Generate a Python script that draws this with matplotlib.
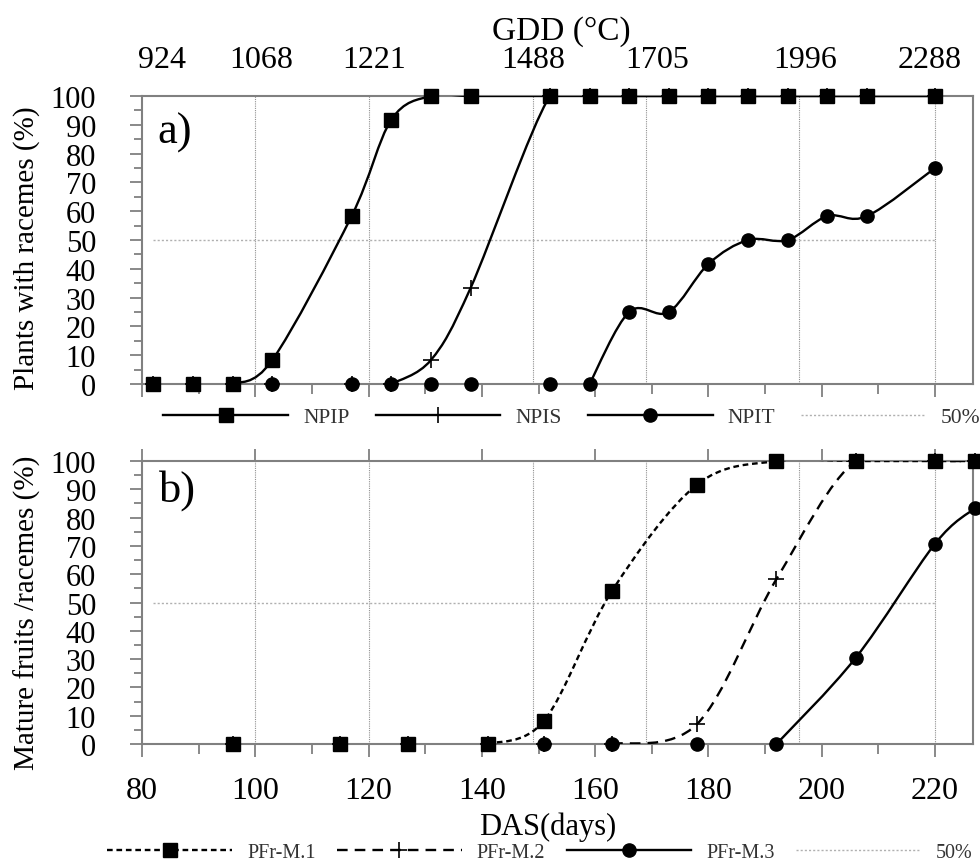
import matplotlib
matplotlib.use("Agg")
import matplotlib.pyplot as plt
from matplotlib.path import Path
from matplotlib.patches import PathPatch
from matplotlib.lines import Line2D
from matplotlib.ticker import MultipleLocator
import numpy as np

plt.rcParams['font.family'] = ['Liberation Serif', 'DejaVu Serif']

# a) plants with racemes (%) by days after sowing
das_a = [82, 89, 96, 103, 117, 124, 131, 138, 152, 159, 166, 173, 180, 187, 194, 201, 208, 220]
npip = [0, 0, 0, 8.3, 58.3, 91.7, 100, 100, 100, 100, 100, 100, 100, 100, 100, 100, 100, 100]
npis = [0, 0, 0, 0, 0, 0, 8.3, 33.3, 100, 100, 100, 100, 100, 100, 100, 100, 100, 100]
npit = [0, 0, 0, 0, 0, 0, 0, 0, 0, 0, 25, 25, 41.7, 50, 50, 58.3, 58.3, 75]

# b) mature fruits / racemes (%)
das_b = [96, 115, 127, 141, 151, 163, 178, 192, 206, 220, 227]
pfr_m1 = [0, 0, 0, 0, 8.3, 54.2, 91.7, 100, 100, 100, 100]
pfr_m2 = [0, 0, 0, 0, 0, 0, 7.1, 58.3, 100, 100, 100]
pfr_m3 = [0, 0, 0, 0, 0, 0, 0, 0, 30.5, 70.8, 83.3]

fifty_x = [82, 220]
fifty_y = [50, 50]

# GDD labels on the top axis and the matching vertical guide lines
gdd_labels = ['924', '1068', '1221', '1488', '1705', '1996', '2288']
gdd_pos = [83.5, 101, 121, 149, 171, 197, 219]
guide_das = [100, 120, 149, 169, 196, 220]

GREY = '#808080'


def smooth_path(x, y):
    # excel-like smoothed line: catmull-rom converted to cubic bezier
    pts = np.column_stack([x, y]).astype(float)
    n = len(pts)
    verts = [pts[0]]
    codes = [Path.MOVETO]
    for i in range(n - 1):
        p0 = pts[max(i - 1, 0)]
        p1 = pts[i]
        p2 = pts[i + 1]
        p3 = pts[min(i + 2, n - 1)]
        verts += [p1 + (p2 - p0) / 6, p2 - (p3 - p1) / 6, p2]
        codes += [Path.CURVE4] * 3
    return Path(verts, codes)


def draw_series(ax, x, y, ls, marker, ms, mew, z):
    # line starts at the last zero before the rise
    start = 0
    for i in range(len(y) - 1):
        if y[i + 1] > 0:
            start = i
            break
    patch = PathPatch(smooth_path(x[start:], y[start:]), facecolor='none',
                      edgecolor='black', lw=1.7, ls=ls, zorder=3)
    ax.add_patch(patch)
    ax.plot(x, y, ls='none', marker=marker, ms=ms, mew=mew, color='black',
            clip_on=False, zorder=z)


def style_axes(ax, show_xlabels):
    ax.set_xlim(80, 226.7)
    ax.set_ylim(0, 100)
    ax.xaxis.set_major_locator(MultipleLocator(20))
    ax.xaxis.set_minor_locator(MultipleLocator(10))
    ax.yaxis.set_major_locator(MultipleLocator(10))
    ax.yaxis.set_minor_locator(MultipleLocator(5))
    for s in ax.spines.values():
        s.set_color(GREY)
        s.set_linewidth(1.5)
    ax.tick_params(axis='x', which='major', direction='out', top=True, bottom=True,
                   length=9, width=1.3, color=GREY, labelbottom=show_xlabels,
                   labelsize=23, pad=14)
    ax.tick_params(axis='x', which='minor', direction='out', top=False, bottom=True,
                   length=7, width=1.3, color=GREY)
    ax.tick_params(axis='y', which='major', direction='out', length=9, width=1.3,
                   color=GREY, labelsize=22, pad=24)
    ax.tick_params(axis='y', which='minor', direction='out', length=6, width=1.3,
                   color=GREY)
    ax.vlines(guide_das, 0, 100, colors='#909090', lw=0.8, ls=(0, (1, 1)), zorder=1)
    ax.plot(fifty_x, fifty_y, color='#b0b0b0', lw=1.0, ls=(0, (1.5, 1.5)), zorder=1)


fig = plt.figure(figsize=(9.8, 8.62), dpi=100)
ax_a = fig.add_axes([0.1449, 0.5534, 0.848, 0.3341])
ax_b = fig.add_axes([0.1449, 0.1357, 0.848, 0.3283])

style_axes(ax_a, False)
style_axes(ax_b, True)

# panel a
draw_series(ax_a, das_a, npis, '-', '+', 11, 1.2, 4)
draw_series(ax_a, das_a, npit, '-', 'o', 9.5, 1, 5)
draw_series(ax_a, das_a, npip, '-', 's', 10.5, 1, 6)
ax_a.text(0.019, 0.84, 'a)', transform=ax_a.transAxes, fontsize=32, va='baseline')

# panel b
draw_series(ax_b, das_b, pfr_m2, (0, (4.5, 3)), '+', 11, 1.2, 4)
draw_series(ax_b, das_b, pfr_m3, '-', 'o', 9.5, 1, 5)
draw_series(ax_b, das_b, pfr_m1, (0, (2.4, 1.6)), 's', 10.5, 1, 6)
ax_b.text(0.021, 0.859, 'b)', transform=ax_b.transAxes, fontsize=32, va='baseline')

# GDD top axis
ax_g = ax_a.twiny()
ax_g.set_xlim(ax_a.get_xlim())
ax_g.set_xticks(gdd_pos)
ax_g.set_xticklabels(gdd_labels)
ax_g.tick_params(axis='x', length=0, labelsize=23, pad=16)
for s in ax_g.spines.values():
    s.set_visible(False)

fig.text(561 / 980, 1 - 40 / 862, 'GDD (\u00b0C)', fontsize=24, ha='center', va='baseline')
fig.text(548 / 980, 1 - 835 / 862, 'DAS(days)', fontsize=22, ha='center', va='baseline')
fig.text(27 / 980, 1 - 248 / 862, 'Plants with racemes (%)', fontsize=21,
         rotation=90, ha='center', va='center')
fig.text(27 / 980, 1 - 613 / 862, 'Mature fruits /racemes (%)', fontsize=21,
         rotation=90, ha='center', va='center')

fifty_handle = Line2D([], [], color='#b0b0b0', lw=1.0, ls=(0, (1.5, 1.5)))
leg_a = [
    Line2D([], [], color='black', lw=1.7, marker='s', ms=10.5),
    Line2D([], [], color='black', lw=1.7, marker='+', ms=11, mew=1.2),
    Line2D([], [], color='black', lw=1.7, marker='o', ms=9.5),
    fifty_handle,
]
ax_a.legend(leg_a, ['NPIP', 'NPIS', 'NPIT', '50%'], loc='center',
            bbox_to_anchor=(572 / 980, 1 - 418 / 862), bbox_transform=fig.transFigure,
            ncol=4, frameon=False, fontsize=15.5, handlelength=5.8, handletextpad=0.7,
            columnspacing=1.2, labelcolor='#333333')

leg_b = [
    Line2D([], [], color='black', lw=1.7, ls=(0, (2.4, 1.6)), marker='s', ms=10.5),
    Line2D([], [], color='black', lw=1.7, ls=(0, (4.5, 3)), marker='+', ms=11, mew=1.2),
    Line2D([], [], color='black', lw=1.7, marker='o', ms=9.5),
    fifty_handle,
]
ax_b.legend(leg_b, ['PFr-M.1', 'PFr-M.2', 'PFr-M.3', '50%'], loc='center',
            bbox_to_anchor=(540 / 980, 1 - 853 / 862), bbox_transform=fig.transFigure,
            ncol=4, frameon=False, fontsize=14.5, handlelength=6.2, handletextpad=0.75,
            columnspacing=1.05, labelcolor='#333333', borderpad=0.2)

fig.savefig('out.png', dpi=100)
